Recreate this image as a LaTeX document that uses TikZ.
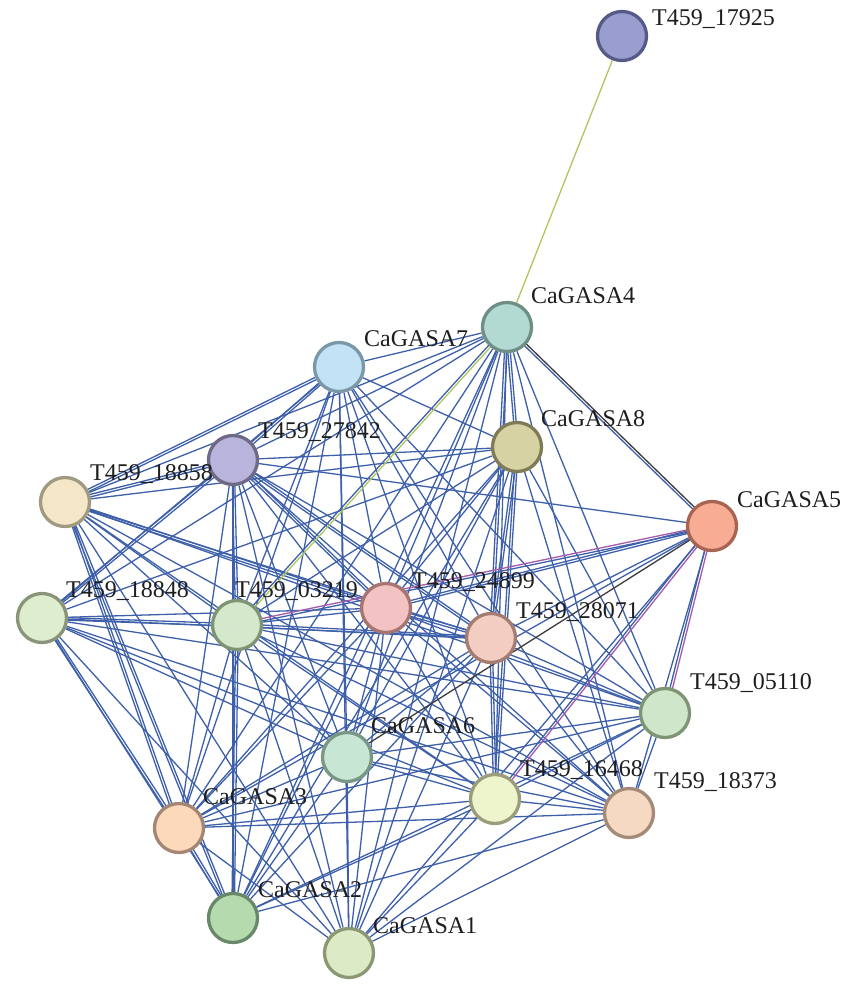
\documentclass[tikz,border=0pt]{standalone}
\usepackage{fontspec}
\setmainfont{Liberation Serif}
\usetikzlibrary{calc}
\pgfdeclarelayer{bg}
\pgfsetlayers{bg,main}
\definecolor{eblue}{RGB}{62,96,170}
\definecolor{egreen}{RGB}{176,198,96}
\definecolor{epurple}{RGB}{164,92,170}
\definecolor{eblack}{RGB}{60,60,60}
\definecolor{txt}{RGB}{30,30,30}
% node fills / borders
\definecolor{f25}{RGB}{154,157,208}\definecolor{d25}{RGB}{86,90,134}
\definecolor{fa4}{RGB}{178,218,210}\definecolor{da4}{RGB}{110,142,134}
\definecolor{fa7}{RGB}{194,226,246}\definecolor{da7}{RGB}{122,152,168}
\definecolor{fa8}{RGB}{214,210,164}\definecolor{da8}{RGB}{126,123,86}
\definecolor{f27}{RGB}{184,180,220}\definecolor{d27}{RGB}{110,106,134}
\definecolor{f58}{RGB}{243,231,200}\definecolor{d58}{RGB}{160,154,128}
\definecolor{fa5}{RGB}{247,172,147}\definecolor{da5}{RGB}{168,100,82}
\definecolor{f48}{RGB}{223,237,207}\definecolor{d48}{RGB}{138,148,120}
\definecolor{f19}{RGB}{212,232,204}\definecolor{d19}{RGB}{126,148,116}
\definecolor{f99}{RGB}{242,195,194}\definecolor{d99}{RGB}{168,116,112}
\definecolor{f71}{RGB}{243,205,194}\definecolor{d71}{RGB}{164,124,114}
\definecolor{f10}{RGB}{207,230,202}\definecolor{d10}{RGB}{126,148,116}
\definecolor{fa6}{RGB}{200,230,212}\definecolor{da6}{RGB}{122,150,132}
\definecolor{f68}{RGB}{238,244,204}\definecolor{d68}{RGB}{154,156,122}
\definecolor{f73}{RGB}{245,217,194}\definecolor{d73}{RGB}{164,138,120}
\definecolor{fa3}{RGB}{253,217,188}\definecolor{da3}{RGB}{164,134,116}
\definecolor{fa2}{RGB}{181,218,174}\definecolor{da2}{RGB}{104,136,106}
\definecolor{fa1}{RGB}{220,235,197}\definecolor{da1}{RGB}{140,152,116}
\newcommand{\twoline}[4]{%
  \draw[#3] ($(#1)!1.25pt!90:(#2)$) -- ($(#2)!1.25pt!-90:(#1)$);
  \draw[#4] ($(#1)!1.25pt!-90:(#2)$) -- ($(#2)!1.25pt!90:(#1)$);
}
\tikzset{
  gnode/.style={circle, minimum size=49pt, inner sep=0pt, line width=3.3pt},
  lbl/.style={anchor=base west, inner sep=0pt, text=txt, font=\fontsize{24}{28}\selectfont},
  edge/.style={draw=eblue, line width=1.3pt},
  gedge/.style={draw=egreen, line width=1.3pt},
  pedge/.style={draw=epurple, line width=1.3pt},
  kedge/.style={draw=eblack, line width=1.3pt},
}
\begin{document}
\begin{tikzpicture}[x=1pt,y=-1pt]
\useasboundingbox (0,0) rectangle (855,984);
% nodes
\node[gnode, fill=f25, draw=d25] (n25) at (622,36) {};
\node[gnode, fill=fa4, draw=da4] (a4) at (507,327) {};
\node[gnode, fill=fa7, draw=da7] (a7) at (339,367) {};
\node[gnode, fill=fa8, draw=da8] (a8) at (517,447) {};
\node[gnode, fill=f27, draw=d27] (n27) at (233,460) {};
\node[gnode, fill=f58, draw=d58] (n58) at (65,502) {};
\node[gnode, fill=fa5, draw=da5] (a5) at (712,526) {};
\node[gnode, fill=f48, draw=d48] (n48) at (42,618) {};
\node[gnode, fill=f19, draw=d19] (n19) at (237,625) {};
\node[gnode, fill=f99, draw=d99] (n99) at (386,608) {};
\node[gnode, fill=f71, draw=d71] (n71) at (491,638) {};
\node[gnode, fill=f10, draw=d10] (n10) at (665,713) {};
\node[gnode, fill=fa6, draw=da6] (a6) at (347,757) {};
\node[gnode, fill=f68, draw=d68] (n68) at (495,799) {};
\node[gnode, fill=f73, draw=d73] (n73) at (629,813) {};
\node[gnode, fill=fa3, draw=da3] (a3) at (179,828) {};
\node[gnode, fill=fa2, draw=da2] (a2) at (233,918) {};
\node[gnode, fill=fa1, draw=da1] (a1) at (349,953) {};
% labels
\node[lbl] (l25) at (652,26) {T459\_17925};
\node[lbl] (la4) at (531,303) {CaGASA4};
\node[lbl] (la7) at (364,346) {CaGASA7};
\node[lbl] (la8) at (541,426) {CaGASA8};
\node[lbl] (l27) at (258,438) {T459\_27842};
\node[lbl] (l58) at (90,480) {T459\_18858};
\node[lbl] (la5) at (737,507) {CaGASA5};
\node[lbl] (l48) at (66,597) {T459\_18848};
\node[lbl] (l19) at (235,597) {T459\_03219};
\node[lbl] (l99) at (412,588) {T459\_24899};
\node[lbl] (l71) at (516,618) {T459\_28071};
\node[lbl] (l10) at (690,689) {T459\_05110};
\node[lbl] (la6) at (371,733) {CaGASA6};
\node[lbl] (l68) at (520,776) {T459\_16468};
\node[lbl] (l73) at (654,788) {T459\_18373};
\node[lbl] (la3) at (203,804) {CaGASA3};
\node[lbl] (la2) at (258,897) {CaGASA2};
\node[lbl] (la1) at (373,933) {CaGASA1};
\begin{pgfonlayer}{bg}
\fill[white] (0,0) rectangle (855,984);
% single blue edges
\foreach \u/\v in {a4/a7,a4/n27,a4/n58,a4/n48,a4/n99,a4/n10,a4/a6,a4/n68,a4/n73,a4/a3,a4/a2,a4/a1,
  a7/a8,a7/n48,a7/n19,a7/n99,a7/n71,a7/n10,a7/a6,a7/n68,a7/n73,a7/a3,a7/a2,a7/a1,
  a8/n27,a8/n58,a8/n48,a8/n19,a8/n99,a8/n10,a8/a6,a8/n73,a8/a3,a8/a2,a8/a1,
  n27/a5,n27/n10,n27/a6,n27/n68,n27/n73,n27/a3,n27/a2,n27/a1,
  n58/n19,n58/n71,n58/n10,n58/a6,n58/n68,n58/n73,n58/a1,
  a5/n71,a5/n73,a5/a3,a5/a1,
  n48/n99,n48/n71,n48/n10,n48/a6,n48/n68,n48/n73,n48/a2,n48/a1,
  n19/n99,n19/n10,n19/a6,n19/n68,n19/n73,n19/a3,n19/a1,
  n99/n10,n99/a6,n99/n68,n99/n73,n99/a3,n99/a2,n99/a1,
  n71/n10,n71/a6,n71/n73,n71/a3,n71/a2,n71/a1,
  n10/a6,n10/n68,n10/n73,n10/a3,n10/a2,n10/a1,
  a6/n68,a6/n73,a6/a3,a6/a2,a6/a1,
  n68/n73,n68/a3,n68/a2,n68/a1,
  n73/a3,n73/a2,n73/a1,
  a3/a1}
  \draw[edge] (\u) -- (\v);
% double blue edges
\foreach \u/\v in {n58/n99,n48/n27,n48/a3,n48/n19,n19/a2,n27/n19,n19/n71,n27/n99,
  a4/a8,a4/n71,a5/n99,n99/n71,a3/a2,n58/n27,a7/n27,a7/n58,a8/n71,a8/n68,
  n71/n68,n58/a3,n58/a2,n27/n71}
  {\twoline{\u}{\v}{edge}{edge}}
% coloured evidence edges
\draw[gedge] (n25) -- (a4);
\twoline{a4}{n19}{gedge}{edge}
\twoline{a4}{a5}{kedge}{edge}
\twoline{n19}{a5}{pedge}{edge}
\draw[kedge] (a5) -- (a6);
\twoline{a5}{n68}{pedge}{edge}
\twoline{a5}{n10}{pedge}{edge}
\end{pgfonlayer}
\end{tikzpicture}
\end{document}
